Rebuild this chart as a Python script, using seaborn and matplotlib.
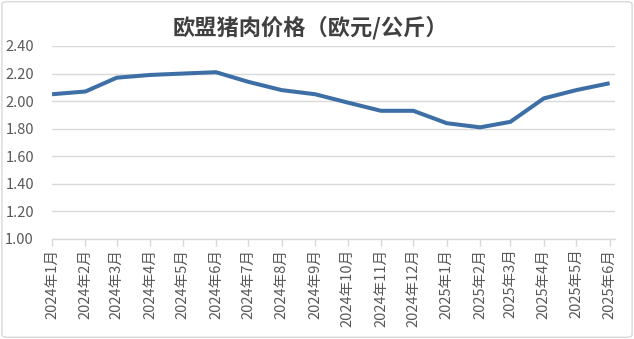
import matplotlib
matplotlib.use("Agg")
import matplotlib.pyplot as plt
from matplotlib.patches import FancyBboxPatch
import pandas as pd
import seaborn as sns

# Monthly EU pork price, EUR/kg
months = ["2024-01", "2024-02", "2024-03", "2024-04", "2024-05", "2024-06",
          "2024-07", "2024-08", "2024-09", "2024-10", "2024-11", "2024-12",
          "2025-01", "2025-02", "2025-03", "2025-04", "2025-05", "2025-06"]
prices = [2.05, 2.07, 2.17, 2.19, 2.20, 2.21,
          2.14, 2.08, 2.05, 1.99, 1.93, 1.93,
          1.84, 1.81, 1.85, 2.02, 2.08, 2.13]
tick_labels = ["2024年1月", "2024年2月", "2024年3月", "2024年4月", "2024年5月", "2024年6月",
               "2024年7月", "2024年8月", "2024年9月", "2024年10月", "2024年11月", "2024年12月",
               "2025年1月", "2025年2月", "2025年3月", "2025年4月", "2025年5月", "2025年6月"]
title = "欧盟猪肉价格（欧元/公斤）"

df = pd.DataFrame({"date": pd.to_datetime(months), "price": prices})

sns.set_theme(style="white")
plt.rcParams["font.family"] = ["Noto Sans CJK SC", "DejaVu Sans"]

fig = plt.figure(figsize=(6.34, 3.39), dpi=100)
ax = fig.add_axes([52 / 634, 1 - 239 / 339, (615 - 52) / 634, (239 - 46) / 339])

sns.lineplot(data=df, x="date", y="price", ax=ax, color="#3d6fa6",
             linewidth=2.9, solid_capstyle="butt", solid_joinstyle="miter")

ax.set_ylim(1.0, 2.4)
ax.set_yticks([1.0, 1.2, 1.4, 1.6, 1.8, 2.0, 2.2, 2.4])
ax.set_yticklabels([f"{v:.2f}" for v in ax.get_yticks()])
ax.set_xlim(df["date"].iloc[0], df["date"].iloc[-1] + pd.Timedelta(days=5))
ax.set_xticks(df["date"])
ax.set_xticklabels(tick_labels, rotation=90)

ax.grid(axis="y", color="#d9d9d9", linewidth=1)
ax.grid(axis="x", visible=False)
for side in ["top", "right", "left"]:
    ax.spines[side].set_visible(False)
ax.spines["bottom"].set_color("#d9d9d9")
ax.spines["bottom"].set_linewidth(1)
ax.tick_params(axis="x", which="major", bottom=True, length=5, width=1,
               color="#d9d9d9", labelsize=10.5, labelcolor="#595959", pad=2)
ax.tick_params(axis="y", left=False, labelsize=10.5, labelcolor="#595959", pad=7)
ax.set_xlabel("")
ax.set_ylabel("")

fig.text(0.49, 1 - 28 / 339, title, ha="center", va="center",
         fontsize=16, fontweight="bold", color="#404040")

fig.patches.append(FancyBboxPatch((0.003, 0.005), 0.994, 0.99,
                                  boxstyle="round,pad=0,rounding_size=0.008",
                                  transform=fig.transFigure, fill=False,
                                  edgecolor="#d9d9d9", linewidth=1))

fig.savefig("out.png", dpi=100)
